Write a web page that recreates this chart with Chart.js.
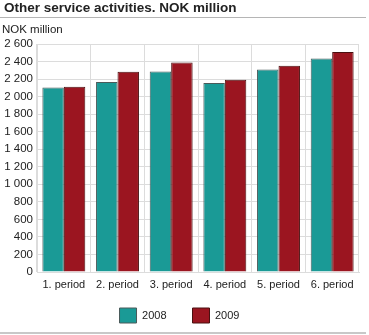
<!DOCTYPE html>
<html>
<head>
<meta charset="utf-8">
<script src="https://cdn.jsdelivr.net/npm/chart.js@4/dist/chart.umd.min.js"></script>
<style>
  body { margin: 0; background: #fff; font-family: "Liberation Sans", Arial, sans-serif; }
  #wrap { position: relative; width: 369px; height: 335px; }
  #title { position: absolute; left: 4px; top: 0px; font-size: 13.5px; font-weight: bold; color: #222; }
  #titleLine { position: absolute; left: 0; top: 17px; width: 366px; height: 1px; background: #b5b5b5; }
  #unit { position: absolute; left: 2px; top: 23px; font-size: 11.5px; color: #222; }
  #bottomLine { position: absolute; left: 0; top: 332px; width: 366px; height: 2px; background: #c8c8c8; }
  canvas { position: absolute; left: 0; top: 0; }
</style>
</head>
<body>
<div id="wrap">
  <canvas id="chart" width="369" height="335"></canvas>
  <div id="title">Other service activities. NOK million</div>
  <div id="titleLine"></div>
  <div id="unit">NOK million</div>
  <div id="bottomLine"></div>
</div>
<script>
// Values
const periods = ['1. period', '2. period', '3. period', '4. period', '5. period', '6. period'];
const values2008 = [2105, 2168, 2285, 2155, 2310, 2435];
const values2009 = [2112, 2283, 2390, 2192, 2352, 2508];

// thousands separated by a space, like "2 600"
const fmt = v => v.toString().replace(/\B(?=(\d{3})+(?!\d))/g, ' ');

// legend padding is big (for the gap between items), so pull the legend up a bit
const legendShift = {
    id: 'legendShift',
    afterLayout(chart) {
        const lg = chart.legend;
        lg.top -= 16;
        lg.bottom -= 16;
    }
};

const ctx = document.getElementById('chart').getContext('2d');
const chart = new Chart(ctx, {
    type: 'bar',
    data: {
        labels: periods,
        datasets: [{
            label: '2008',
            data: values2008,
            backgroundColor: '#1a9a96',
            borderColor: '#4a5a5a',
            borderWidth: 1,
            categoryPercentage: 0.8,
            barPercentage: 1.0
        }, {
            label: '2009',
            data: values2009,
            backgroundColor: '#9b1520',
            borderColor: '#4a1010',
            borderWidth: 1,
            categoryPercentage: 0.8,
            barPercentage: 1.0
        }]
    },
    plugins: [legendShift],
    options: {
        responsive: false,
        animation: false,
        layout: {
            padding: { top: 44, right: 10, left: 0, bottom: -14 }
        },
        plugins: {
            legend: {
                position: 'bottom',
                labels: {
                    boxWidth: 17,
                    boxHeight: 15,
                    padding: 26,
                    color: '#222',
                    font: { family: 'Liberation Sans', size: 11 }
                }
            },
            tooltip: { enabled: false }
        },
        scales: {
            x: {
                afterFit: s => { s.height = 26; },
                grid: { color: '#dcdcdc', offset: true, drawTicks: false },
                border: { color: '#dcdcdc' },
                ticks: {
                    color: '#222',
                    padding: 6,
                    autoSkip: false,
                    maxRotation: 0,
                    font: { family: 'Liberation Sans', size: 11 }
                }
            },
            y: {
                min: 0,
                max: 2600,
                afterFit: s => { s.width = 37; },
                grid: { color: '#dcdcdc', drawTicks: false },
                border: { color: '#dcdcdc' },
                ticks: {
                    stepSize: 200,
                    autoSkip: false,
                    padding: 4,
                    color: '#222',
                    font: { family: 'Liberation Sans', size: 11.5 },
                    callback: v => fmt(v)
                }
            }
        }
    }
});
</script>
</body>
</html>
